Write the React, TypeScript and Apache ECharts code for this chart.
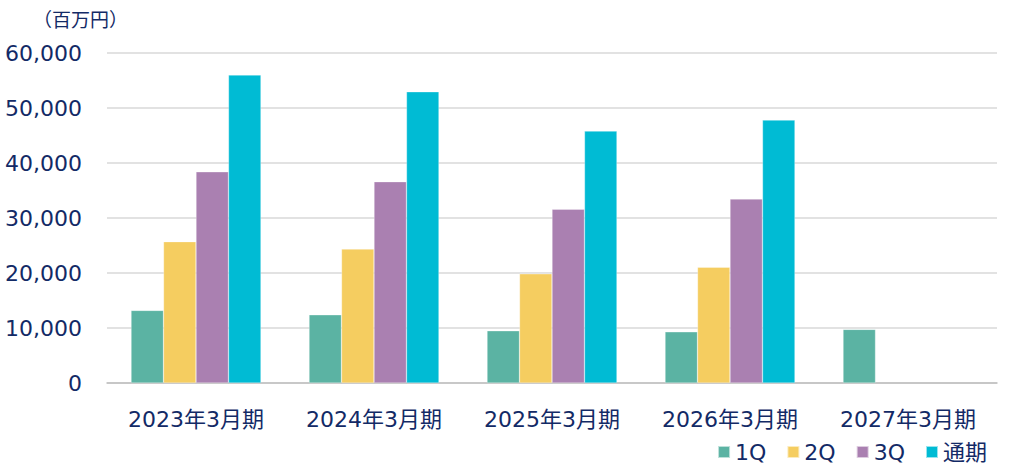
import React, { useEffect, useRef } from "react";
import * as echarts from "echarts";

const categories = ["2023年3月期", "2024年3月期", "2025年3月期", "2026年3月期", "2027年3月期"];
const seriesNames = ["1Q", "2Q", "3Q", "通期"];
const q1 = [13200, 12400, 9500, 9300, 9750];
const q2 = [25700, 24350, 19850, 21050, null];
const q3 = [38400, 36600, 31600, 33450, null];
const full = [56000, 52950, 45800, 47800, null];
const colors = ["#5BB3A3", "#F5CD60", "#AA80B1", "#00BBD4"];
const yTicks = { min: 0, max: 60000, interval: 10000 };
const unitLabel = "（百万円）";

const textColor = "#132A66";
const font = "'DejaVu Sans', Verdana, 'Noto Sans CJK JP', sans-serif";

export default function App() {
  const ref = useRef<HTMLDivElement>(null);
  useEffect(() => {
    if (!ref.current) return;
    const chart = echarts.init(ref.current, null, { renderer: "svg" });
    const values = [q1, q2, q3, full];
    chart.setOption({
      animation: false,
      textStyle: { fontFamily: font, color: textColor },
      grid: { left: 107, right: 27, top: 53, bottom: 92 },
      graphic: [
        {
          type: "text",
          left: 33,
          top: 10,
          style: { text: unitLabel, fontSize: 19, fill: textColor, fontFamily: font },
        },
      ],
      legend: {
        data: seriesNames,
        right: 32,
        top: 436,
        icon: "rect",
        itemWidth: 12,
        itemHeight: 12,
        itemGap: 20,
        textStyle: { fontSize: 22, color: textColor, fontFamily: font },
      },
      xAxis: {
        type: "category",
        data: categories,
        axisTick: { show: false },
        axisLine: { lineStyle: { color: "#BFBFBF", width: 1.5 } },
        axisLabel: { fontSize: 22, color: textColor, margin: 25, fontFamily: font },
      },
      yAxis: {
        type: "value",
        min: yTicks.min,
        max: yTicks.max,
        interval: yTicks.interval,
        axisLine: { show: false },
        axisTick: { show: false },
        splitLine: { lineStyle: { color: "#D9D9D9", width: 1.5 } },
        axisLabel: {
          fontSize: 22,
          color: textColor,
          margin: 25,
          fontFamily: font,
          formatter: (v: number) => v.toLocaleString("en-US"),
        },
      },
      series: seriesNames.map((name, i) => ({
        name,
        type: "bar",
        data: values[i],
        barGap: "0%",
        barCategoryGap: "27%",
        itemStyle: { color: colors[i], borderColor: "rgba(255,255,255,0.6)", borderWidth: 0.5 },
      })),
    });
    return () => chart.dispose();
  }, []);
  return (
    <div
      ref={ref}
      style={{ position: "fixed", left: 0, top: 0, width: 1024, height: 475, background: "#fff" }}
    />
  );
}
